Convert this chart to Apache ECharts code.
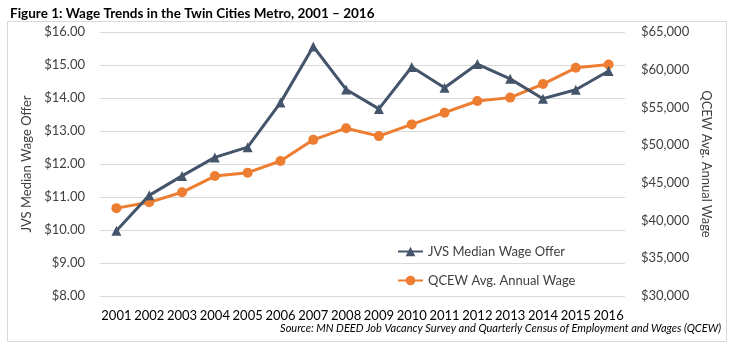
<!DOCTYPE html>
<html>
<head>
<meta charset="utf-8">
<script src="https://cdn.jsdelivr.net/npm/echarts@6/dist/echarts.min.js"></script>
<style>
html,body{margin:0;padding:0;background:#fff;}
#chart{width:734px;height:345px;}
</style>
</head>
<body>
<div id="chart"></div>
<script>
const years = ['2001','2002','2003','2004','2005','2006','2007','2008','2009','2010','2011','2012','2013','2014','2015','2016'];
const jvsWage = [9.98, 11.05, 11.64, 12.20, 12.51, 13.86, 15.56, 14.26, 13.67, 14.94, 14.31, 15.03, 14.58, 13.98, 14.25, 14.82];
const qcewWage = [41650, 42420, 43750, 45900, 46350, 47900, 50700, 52250, 51200, 52750, 54300, 55850, 56300, 58100, 60250, 60700];
const leftTicks = {min: 8, max: 16, interval: 1};
const rightTicks = {min: 30000, max: 65000, interval: 5000};

const FONT = 'Lato';
const chart = echarts.init(document.getElementById('chart'));
chart.setOption({
  animation: false,
  textStyle: {fontFamily: FONT},
  title: {
    text: 'Figure 1: Wage Trends in the Twin Cities Metro, 2001 \u2013 2016',
    left: 5, top: 2,
    textStyle: {fontFamily: FONT, fontWeight: 'bold', fontSize: 13.5, color: '#000'}
  },
  graphic: [
    {type: 'rect', shape: {x: 7.5, y: 21.5, width: 719, height: 320}, style: {fill: 'none', stroke: '#d9d9d9', lineWidth: 1}, z: -1},
    {type: 'text', right: 13, top: 323, style: {text: 'Source: MN DEED Job Vacancy Survey and Quarterly Census of Employment and Wages (QCEW)', fontFamily: FONT, fontStyle: 'italic', fontSize: 11, fill: '#000'}}
  ],
  grid: {left: 100, right: 109, top: 32, bottom: 49},
  legend: {
    orient: 'vertical', left: 392, top: 240, itemWidth: 25, itemHeight: 12, itemGap: 16,
    textStyle: {fontFamily: FONT, fontSize: 13, color: '#404040'},
    data: ['JVS Median Wage Offer', 'QCEW Avg. Annual Wage']
  },
  xAxis: {
    type: 'category', data: years, boundaryGap: true,
    axisLine: {show: false}, axisTick: {show: false},
    axisLabel: {fontFamily: FONT, fontSize: 13, color: '#000', margin: 13, interval: 0}
  },
  yAxis: [
    {
      type: 'value', min: leftTicks.min, max: leftTicks.max, interval: leftTicks.interval,
      name: 'JVS Median Wage Offer', nameLocation: 'middle', nameGap: 62, nameRotate: 90,
      nameTextStyle: {fontFamily: FONT, fontSize: 13, color: '#404040'},
      axisLine: {show: false}, axisTick: {show: false},
      axisLabel: {fontFamily: FONT, fontSize: 13, color: '#404040', margin: 15, formatter: v => '$' + v.toFixed(2)},
      splitLine: {lineStyle: {color: '#d9d9d9', width: 1}}
    },
    {
      type: 'value', min: rightTicks.min, max: rightTicks.max, interval: rightTicks.interval,
      name: 'QCEW Avg. Annual Wage', nameLocation: 'middle', nameGap: 68, nameRotate: -90,
      nameTextStyle: {fontFamily: FONT, fontSize: 13, color: '#404040'},
      axisLine: {show: false}, axisTick: {show: false},
      axisLabel: {fontFamily: FONT, fontSize: 13, color: '#404040', margin: 16, formatter: v => '$' + v.toLocaleString('en-US')},
      splitLine: {show: false}
    }
  ],
  series: [
    {
      name: 'JVS Median Wage Offer', type: 'line', yAxisIndex: 0, data: jvsWage,
      symbol: 'triangle', symbolSize: 10, showAllSymbol: true,
      lineStyle: {color: '#44546A', width: 3}, itemStyle: {color: '#44546A'}, z: 3
    },
    {
      name: 'QCEW Avg. Annual Wage', type: 'line', yAxisIndex: 1, data: qcewWage,
      symbol: 'circle', symbolSize: 10, showAllSymbol: true,
      lineStyle: {color: '#ED7D31', width: 3}, itemStyle: {color: '#ED7D31'}, z: 2
    }
  ]
});
</script>
</body>
</html>
